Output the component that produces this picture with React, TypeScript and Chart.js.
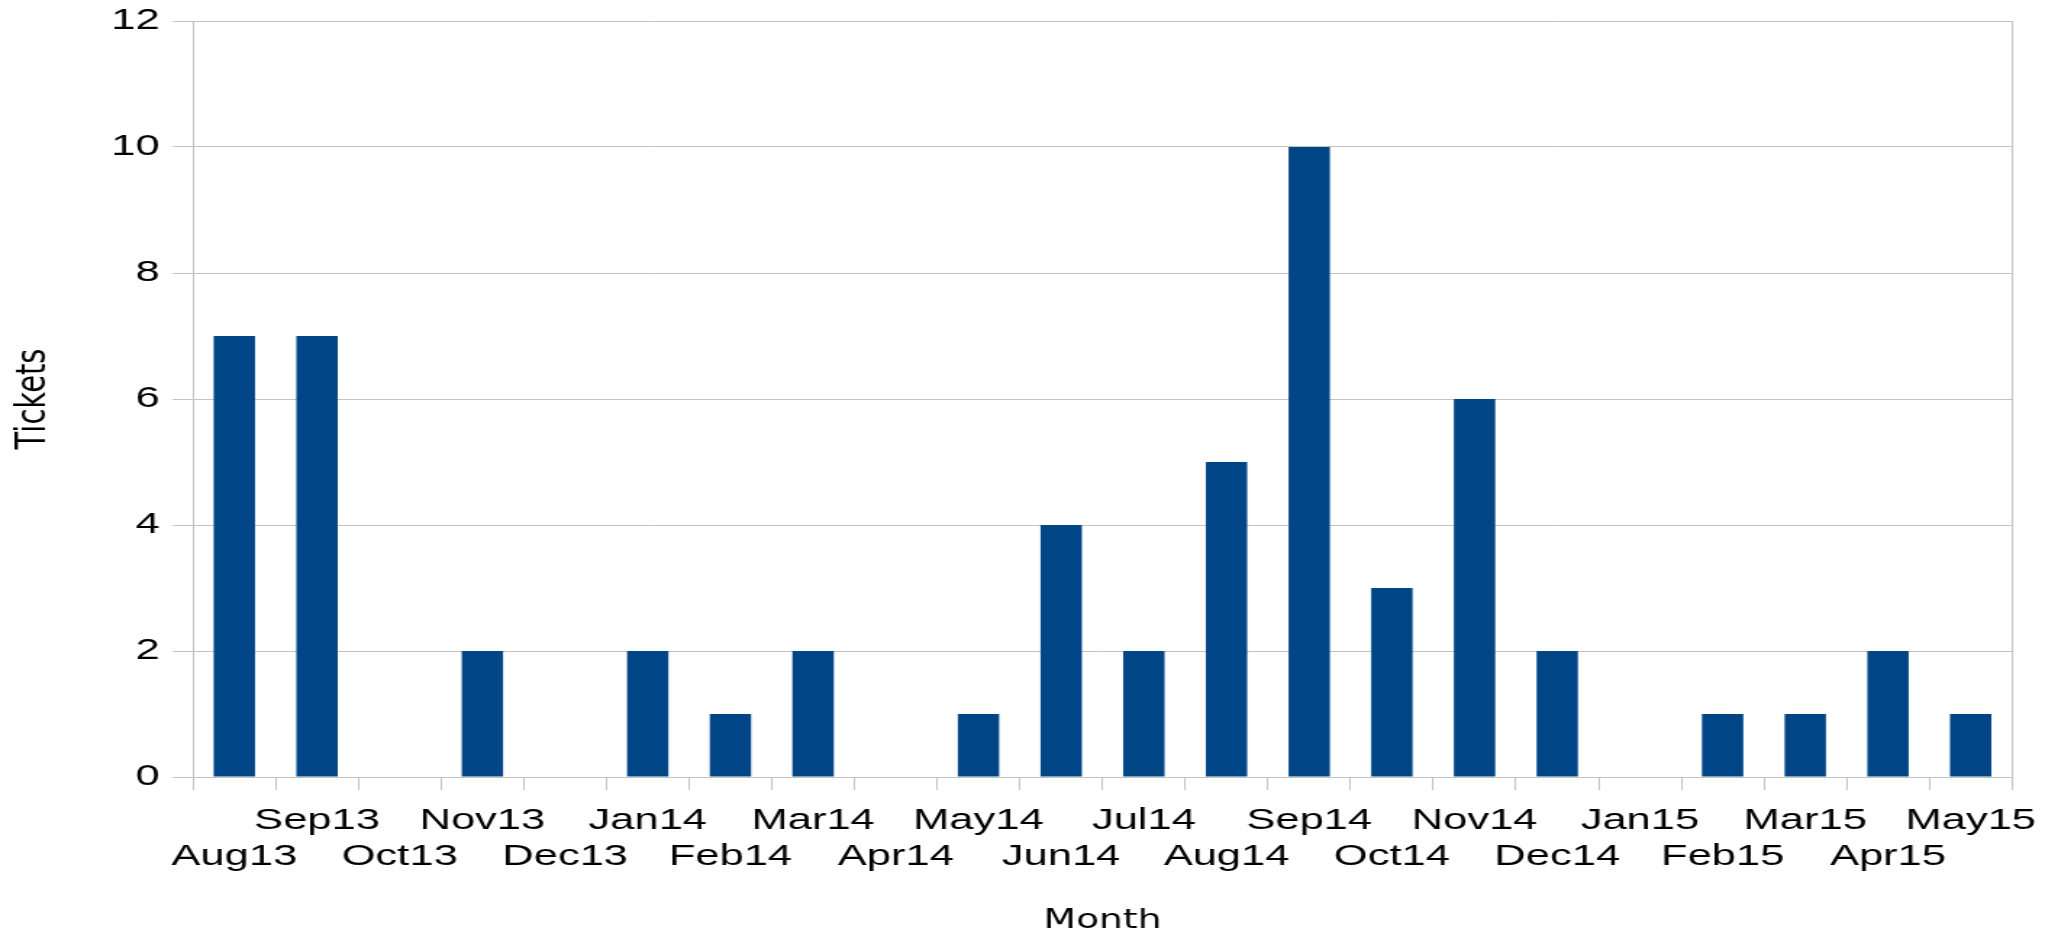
import { useEffect, useRef } from "react";
import { Chart, registerables } from "chart.js";

Chart.register(...registerables);

const months = [
  "Aug13", "Sep13", "Oct13", "Nov13", "Dec13", "Jan14", "Feb14", "Mar14",
  "Apr14", "May14", "Jun14", "Jul14", "Aug14", "Sep14", "Oct14", "Nov14",
  "Dec14", "Jan15", "Feb15", "Mar15", "Apr15", "May15",
];
const tickets = [7, 7, 0, 2, 0, 2, 1, 2, 0, 1, 4, 2, 5, 10, 3, 6, 2, 0, 1, 1, 2, 1];
const yMin = 0;
const yMax = 12;
const yStep = 2;

const xTitle = "Month";
const yTitle = "Tickets";

const STRETCH = 1.4493;
const CSS_W = 2058;
const CSS_H = 939;
const W = Math.round(CSS_W / STRETCH);
const H = CSS_H;
const GRAY = "#c3c3c3";
const FONT = "'Liberation Sans', Arial, sans-serif";
const TITLE_FONT = "'DejaVu Sans', 'Liberation Sans', sans-serif";

export default function App() {
  const ref = useRef<HTMLCanvasElement>(null);

  useEffect(() => {
    const canvas = ref.current;
    if (!canvas) return;
    const chart = new Chart(canvas, {
      type: "bar",
      data: {
        labels: months.map((m, i) => (i % 2 === 0 ? ["", m] : [m, ""])),
        datasets: [
          {
            data: tickets,
            backgroundColor: "#004586",
            borderWidth: 0,
            barPercentage: 0.5,
            categoryPercentage: 1,
          },
        ],
      },
      options: {
        responsive: false,
        animation: false,
        devicePixelRatio: 1,
        layout: { padding: { top: 21, right: W - 2012 / STRETCH, bottom: 2, left: 0 } },
        plugins: {
          legend: { display: false },
          tooltip: { enabled: false },
        },
        scales: {
          x: {
            grid: {
              offset: true,
              color: (c: any) => (c.tick === undefined ? GRAY : "rgba(0,0,0,0)"),
              tickColor: GRAY,
              tickLength: 13,
              lineWidth: 1,
            },
            border: { display: true, color: GRAY },
            ticks: {
              autoSkip: false,
              maxRotation: 0,
              minRotation: 0,
              color: "#000",
              padding: 13,
              font: { family: FONT, size: 30, lineHeight: 1.2 },
            },
            title: {
              display: true,
              text: xTitle,
              color: "#000",
              padding: 0,
              font: { family: TITLE_FONT, size: 26 },
            },
            afterFit: (s: any) => {
              s.height = 160;
            },
          },
          y: {
            min: yMin,
            max: yMax,
            ticks: {
              stepSize: yStep,
              color: "#000",
              padding: 9,
              font: { family: FONT, size: 30, lineHeight: 0.8 },
            },
            grid: { color: GRAY, tickColor: GRAY, tickLength: 14, lineWidth: 1 },
            border: { display: true, color: GRAY },
            title: {
              display: true,
              text: yTitle,
              color: "#000",
              padding: { top: 6, bottom: 0 },
              font: { family: TITLE_FONT, size: 29 },
            },
            afterFit: (s: any) => {
              s.width = 193 / STRETCH;
            },
          },
        },
      },
    });
    return () => chart.destroy();
  }, []);

  return (
    <div style={{ position: "fixed", left: 0, top: 0, width: CSS_W, height: CSS_H, background: "#fff" }}>
      <canvas
        ref={ref}
        width={W}
        height={H}
        style={{ width: CSS_W + "px", height: CSS_H + "px", display: "block" }}
      />
    </div>
  );
}
